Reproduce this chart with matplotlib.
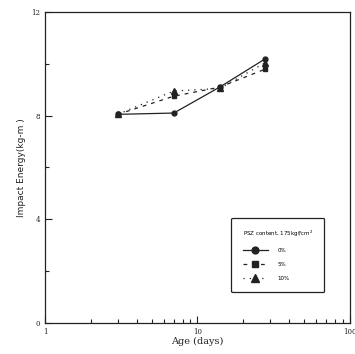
import matplotlib.pyplot as plt
import numpy as np

age = [3, 7, 14, 28]
energy_0 = [8.05, 8.1, 9.1, 10.2]
energy_5 = [8.05, 8.75, 9.1, 9.8]
energy_10 = [8.05, 8.95, 9.05, 10.05]
labels = ["0%", "5%", "10%"]

fig = plt.figure(figsize=(3.55, 3.54), dpi=100)
ax = fig.add_axes([0.127, 0.088, 0.858, 0.878])

ax.plot(age, energy_0, color="#222222", linestyle="-", linewidth=0.9,
        marker="o", markersize=3.5, label=labels[0])
ax.plot(age, energy_5, color="#222222", linestyle=(0, (3, 4)), linewidth=0.9,
        marker="s", markersize=3.5, label=labels[1])
ax.plot(age, energy_10, color="#222222", linestyle=(0, (1, 4)), linewidth=0.9,
        marker="^", markersize=4, label=labels[2])

ax.set_xscale("log")
ax.set_xlim(1, 100)
ax.set_ylim(0, 12)
ax.set_yticks([0, 4, 8, 12])
ax.set_yticks([2, 6, 10], minor=True)
ax.set_xticks([1, 10, 100])
ax.set_xticklabels(["1", "10", "100"])
ax.tick_params(which="both", direction="in", labelsize=5, width=0.8,
               colors="#222222")
ax.tick_params(which="major", length=5)
ax.tick_params(which="minor", length=3)
for lab in ax.get_xticklabels() + ax.get_yticklabels():
    lab.set_family("serif")
for s in ax.spines.values():
    s.set_linewidth(0.9)
    s.set_color("#222222")

ax.set_ylabel("Impact Energy(kg-m )", fontsize=6.5, color="#222222")
ax.set_xlabel("Age (days)", fontsize=7, family="serif", color="#222222",
              labelpad=1)

leg = ax.legend(title="PSZ content, 175kgf/cm$^2$", loc="lower right",
                bbox_to_anchor=(0.925, 0.09), fontsize=4, title_fontsize=4,
                fancybox=True, edgecolor="#222222", framealpha=1,
                borderpad=2.0, labelspacing=1.6, handlelength=4.5,
                handletextpad=1.8, markerscale=1.4, alignment="left")
leg.get_frame().set_linewidth(0.9)

plt.savefig("out.png", dpi=100)
